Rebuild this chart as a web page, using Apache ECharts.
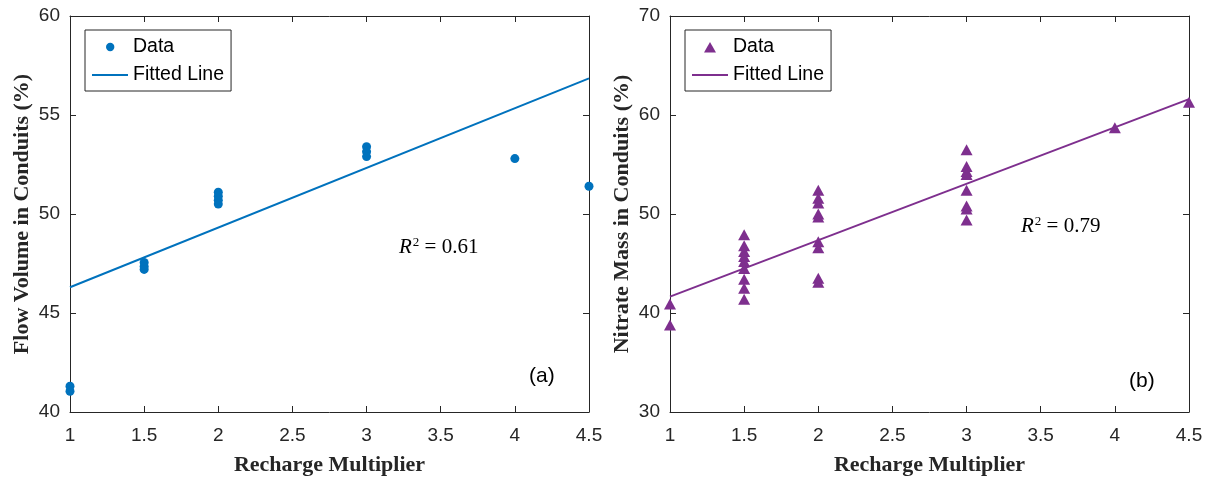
<!DOCTYPE html>
<html>
<head>
<meta charset="utf-8">
<script src="https://cdn.jsdelivr.net/npm/echarts@6/dist/echarts.min.js"></script>
<style>
  html, body { margin: 0; padding: 0; background: #fff; }
  #chart { width: 1211px; height: 482px; }
</style>
</head>
<body>
<div id="chart"></div>
<script>
// left panel (a): flow volume
const flowX = [1, 1, 1.5, 1.5, 1.5, 2, 2, 2, 2, 3, 3, 3, 4, 4.5];
const flowY = [41.3, 41.05, 47.55, 47.35, 47.2, 51.1, 50.9, 50.7, 50.5, 53.4, 53.15, 52.9, 52.8, 51.4];
const flowFit = [[1, 46.3], [4.5, 56.85]];

// right panel (b): nitrate mass
const nitrX = [1, 1,
  1.5, 1.5, 1.5, 1.5, 1.5, 1.5, 1.5, 1.5, 1.5,
  2, 2, 2, 2, 2, 2, 2, 2, 2,
  3, 3, 3, 3, 3, 3, 3, 3,
  4, 4.5];
const nitrY = [40.9, 38.8,
  47.9, 46.8, 46.2, 45.7, 45.2, 44.5, 43.4, 42.5, 41.4,
  52.4, 51.6, 51.1, 50.0, 49.7, 47.2, 46.6, 43.5, 43.1,
  56.5, 54.8, 54.3, 54.0, 52.4, 50.8, 50.5, 49.4,
  58.7, 61.3];
const nitrFit = [[1, 41.65], [4.5, 61.6]];

const blue = "#0072BD";
const purple = "#7E2F8E";
const ink = "#262626";

const zip = (xs, ys) => xs.map((x, i) => [x, ys[i]]);

const chart = echarts.init(document.getElementById("chart"));

const grids = [
  { left: 70, right: 622, top: 16, bottom: 70 },
  { left: 670, right: 22, top: 16, bottom: 70 }
];

const tickFont = { fontFamily: "Liberation Sans", fontSize: 19, color: ink };
const nameFont = { fontFamily: "Liberation Serif", fontSize: 22, fontWeight: "bold", color: ink };

function xAxes(gi) {
  return [
    {
      gridIndex: gi, type: "value", min: 1, max: 4.5, interval: 0.5,
      name: "Recharge Multiplier", nameLocation: "middle", nameGap: 42, nameTextStyle: nameFont,
      axisLine: { lineStyle: { color: ink, width: 1 } },
      axisTick: { inside: true, length: 6, lineStyle: { color: ink } },
      axisLabel: Object.assign({ margin: 14, formatter: v => String(v) }, tickFont),
      splitLine: { show: false }
    },
    {
      gridIndex: gi, type: "value", min: 1, max: 4.5, interval: 0.5, position: "top",
      axisLine: { lineStyle: { color: ink, width: 1 } },
      axisTick: { inside: true, length: 6, lineStyle: { color: ink } },
      axisLabel: { show: false }, splitLine: { show: false }
    }
  ];
}

function yAxes(gi, min, max, interval, name) {
  return [
    {
      gridIndex: gi, type: "value", min: min, max: max, interval: interval,
      name: name, nameLocation: "middle", nameGap: 37, nameTextStyle: nameFont,
      axisLine: { show: true, lineStyle: { color: ink, width: 1 } },
      axisTick: { show: true, inside: true, length: 6, lineStyle: { color: ink } },
      axisLabel: Object.assign({ margin: 10 }, tickFont),
      splitLine: { show: false }
    },
    {
      gridIndex: gi, type: "value", min: min, max: max, interval: interval, position: "right",
      axisLine: { show: true, lineStyle: { color: ink, width: 1 } },
      axisTick: { show: true, inside: true, length: 6, lineStyle: { color: ink } },
      axisLabel: { show: false }, splitLine: { show: false }
    }
  ];
}

const legendBase = {
  orient: "vertical",
  itemWidth: 36, itemHeight: 12, itemGap: 8,
  padding: [7, 7, 6, 6],
  borderColor: ink, borderWidth: 1, backgroundColor: "#fff",
  textStyle: { fontFamily: "Liberation Sans", fontSize: 19.5, color: "#000" }
};

const noDot = { color: "rgba(0,0,0,0)", borderWidth: 0, opacity: 0 };
const dotIcon = "path://M0,0 M36,12 M14,6 A4.2,4.2 0 1 1 22.4,6 A4.2,4.2 0 1 1 14,6 Z";
const triIcon = "path://M0,0 M36,12 M12,11.5 L18,1 L24,11.5 Z";

const r2Style = {
  fontFamily: "Liberation Serif", fontSize: 21, fill: "#000",
  rich: {
    i: { fontFamily: "Liberation Serif", fontSize: 21, fontStyle: "italic" },
    s: { fontFamily: "Liberation Serif", fontSize: 13, verticalAlign: "top", padding: [0, 0, 10, 1] },
    t: { fontFamily: "Liberation Serif", fontSize: 21 }
  }
};

chart.setOption({
  animation: false,
  grid: grids,
  xAxis: [...xAxes(0), ...xAxes(1)],
  yAxis: [
    ...yAxes(0, 40, 60, 5, "Flow Volume in Conduits (%)"),
    ...yAxes(1, 30, 70, 10, "Nitrate Mass in Conduits (%)")
  ],
  legend: [
    Object.assign({}, legendBase, {
      left: 85, top: 30,
      data: [
        { name: "Data", icon: dotIcon, itemStyle: { color: blue, opacity: 1 } },
        { name: "Fitted Line", itemStyle: noDot }
      ]
    }),
    Object.assign({}, legendBase, {
      left: 685, top: 30,
      data: [
        { name: "Data ", icon: triIcon, itemStyle: { color: purple, opacity: 1 } },
        { name: "Fitted Line ", itemStyle: noDot }
      ],
      formatter: n => n.trim()
    })
  ],
  graphic: [
    { type: "text", left: 399, top: 236, style: Object.assign({ text: "{i|R}{s|2}{t| = 0.61}" }, r2Style) },
    { type: "text", left: 1021, top: 215, style: Object.assign({ text: "{i|R}{s|2}{t| = 0.79}" }, r2Style) },
    { type: "text", left: 529, top: 366, style: { text: "(a)", fontFamily: "Liberation Sans", fontSize: 21, fill: "#000" } },
    { type: "text", left: 1129, top: 371, style: { text: "(b)", fontFamily: "Liberation Sans", fontSize: 21, fill: "#000" } }
  ],
  series: [
    {
      name: "Data", type: "scatter", xAxisIndex: 0, yAxisIndex: 0,
      symbol: "circle", symbolSize: 9, itemStyle: { color: blue, opacity: 1 },
      data: zip(flowX, flowY)
    },
    {
      name: "Fitted Line", type: "line", xAxisIndex: 0, yAxisIndex: 0,
      showSymbol: false, symbol: "none", lineStyle: { color: blue, width: 2 }, itemStyle: { color: blue },
      data: flowFit
    },
    {
      name: "Data ", type: "scatter", xAxisIndex: 2, yAxisIndex: 2,
      symbol: "triangle", symbolSize: [12, 11], itemStyle: { color: purple, opacity: 1 },
      data: zip(nitrX, nitrY)
    },
    {
      name: "Fitted Line ", type: "line", xAxisIndex: 2, yAxisIndex: 2,
      showSymbol: false, symbol: "none", lineStyle: { color: purple, width: 2 }, itemStyle: { color: purple },
      data: nitrFit
    }
  ]
});

window.addEventListener("resize", chart.resize);
</script>
</body>
</html>
